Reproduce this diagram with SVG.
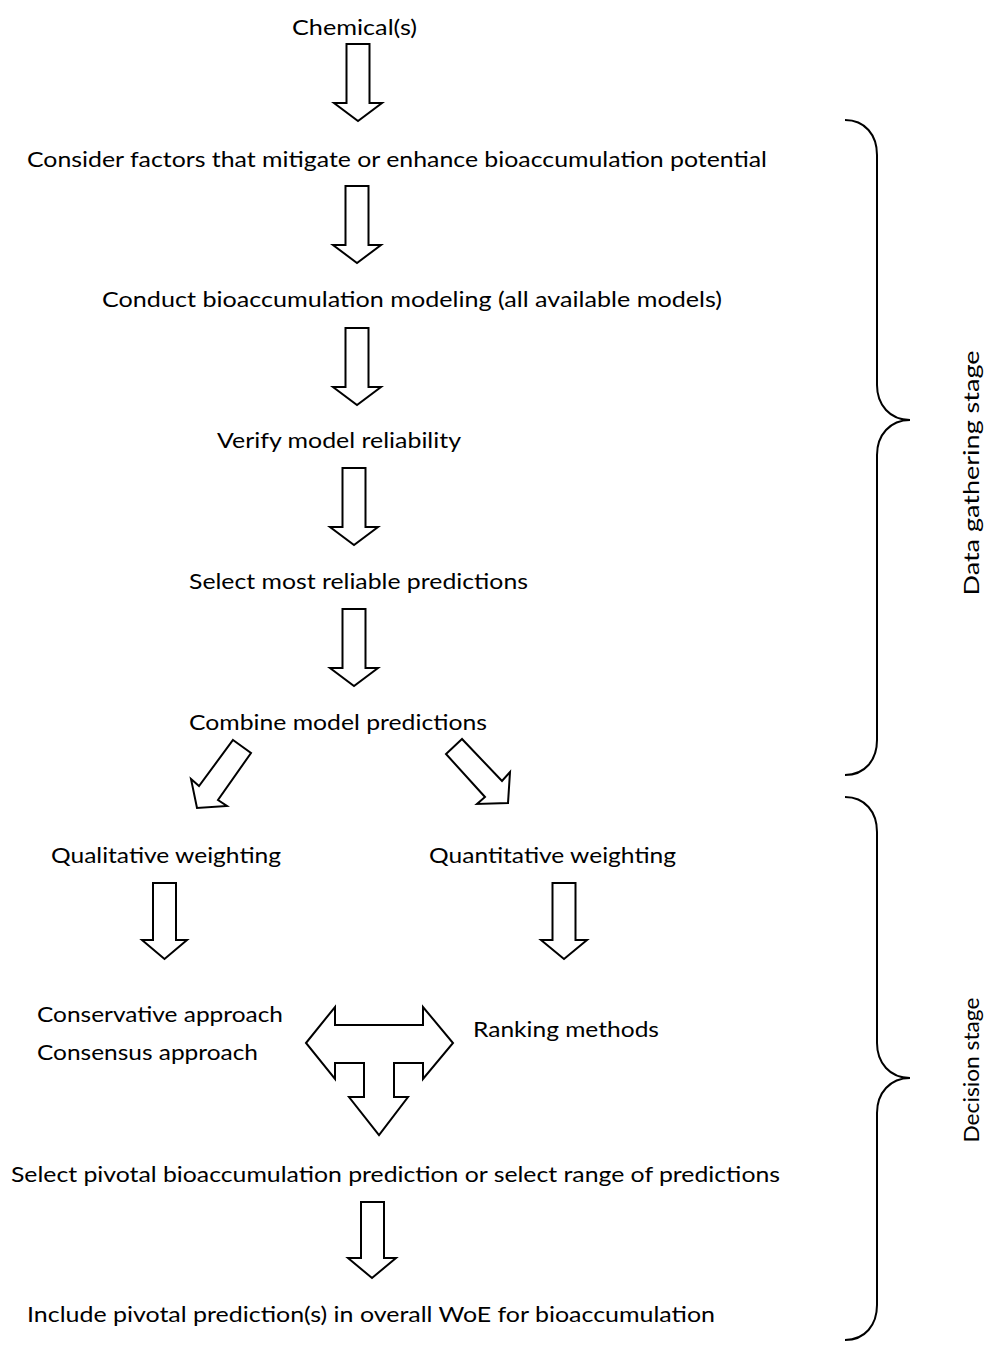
<svg xmlns="http://www.w3.org/2000/svg" width="989" height="1345" viewBox="0 0 989 1345">
<style>
.t{font-family:Lato,"Liberation Sans",sans-serif;font-size:22px;fill:#000}
.a{fill:#fff;stroke:#000;stroke-width:2;stroke-linejoin:miter}
.b{fill:none;stroke:#000;stroke-width:2}
</style>
<rect width="989" height="1345" fill="#fff"/>
<g id="n-chemicals"><text class="t" x="292" y="35" textLength="125" lengthAdjust="spacingAndGlyphs">Chemical(s)</text></g>
<g id="n-consider"><text class="t" x="27" y="167" textLength="740" lengthAdjust="spacingAndGlyphs">Consider factors that mitigate or enhance bioaccumulation potential</text></g>
<g id="n-conduct"><text class="t" x="102" y="307" textLength="620" lengthAdjust="spacingAndGlyphs">Conduct bioaccumulation modeling (all available models)</text></g>
<g id="n-verify"><text class="t" x="217" y="448" textLength="244" lengthAdjust="spacingAndGlyphs">Verify model reliability</text></g>
<g id="n-select-reliable"><text class="t" x="189" y="589" textLength="339" lengthAdjust="spacingAndGlyphs">Select most reliable predictions</text></g>
<g id="n-combine"><text class="t" x="189" y="730" textLength="298" lengthAdjust="spacingAndGlyphs">Combine model predictions</text></g>
<g id="n-qualitative"><text class="t" x="51" y="863" textLength="230" lengthAdjust="spacingAndGlyphs">Qualitative weighting</text></g>
<g id="n-quantitative"><text class="t" x="429" y="863" textLength="247" lengthAdjust="spacingAndGlyphs">Quantitative weighting</text></g>
<g id="n-conservative"><text class="t" x="37" y="1022" textLength="246" lengthAdjust="spacingAndGlyphs">Conservative approach</text></g>
<g id="n-consensus"><text class="t" x="37" y="1060" textLength="221" lengthAdjust="spacingAndGlyphs">Consensus approach</text></g>
<g id="n-ranking"><text class="t" x="473" y="1037" textLength="186" lengthAdjust="spacingAndGlyphs">Ranking methods</text></g>
<g id="n-select-pivotal"><text class="t" x="11" y="1182" textLength="769" lengthAdjust="spacingAndGlyphs">Select pivotal bioaccumulation prediction or select range of predictions</text></g>
<g id="n-include"><text class="t" x="27" y="1322" textLength="688" lengthAdjust="spacingAndGlyphs">Include pivotal prediction(s) in overall WoE for bioaccumulation</text></g>
<g id="connectors">
<path class="a" d="M346.5,44 H369.5 V103 H382 L358,121 L334,103 H346.5 Z"/>
<path class="a" d="M345.5,186 H368.5 V245 H381 L357,263 L333,245 H345.5 Z"/>
<path class="a" d="M345.5,328 H368.5 V387 H381 L357,405 L333,387 H345.5 Z"/>
<path class="a" d="M342.5,468 H365.5 V527 H378 L354,545 L330,527 H342.5 Z"/>
<path class="a" d="M342.5,609 H365.5 V668 H378 L354,686 L330,668 H342.5 Z"/>
<path class="a" d="M233,740 L251,753 L218,800 L227,806 L197,808 L191,779 L199,786 Z"/>
<path class="a" d="M462,739 L446,754 L485,797 L477,804 L508,803 L510,772 L502,781 Z"/>
<path class="a" d="M153,883 H176 V940 H187 L164.5,959 L142,940 H153 Z"/>
<path class="a" d="M552.5,883 H575.5 V940 H587 L564,959 L541,940 H552.5 Z"/>
<path class="a" d="M306,1043 L335,1007 V1025 H423 V1007 L453,1043 L423,1079 V1063 H394 V1097 H408 L379,1135 L349,1097 H364 V1063 H335 V1079 Z"/>
<path class="a" d="M361,1202 H384 V1258 H396 L372,1278 L348,1258 H361 Z"/>
</g>
<g id="brace-data-gathering">
<path class="b" d="M845,120 C865,120 877,135 877,155 L877,385 C877,405 890,420 910,420 C890,420 877,435 877,455 L877,740 C877,760 865,775 845,775"/>
<text class="t" x="979" y="473" text-anchor="middle" textLength="245" lengthAdjust="spacingAndGlyphs" transform="rotate(-90 979 473)">Data gathering stage</text>
</g>
<g id="brace-decision">
<path class="b" d="M845,797 C865,797 877,812 877,832 L877,1043 C877,1063 890,1078 910,1078 C890,1078 877,1093 877,1113 L877,1305 C877,1325 865,1340 845,1340"/>
<text class="t" x="979" y="1070" text-anchor="middle" textLength="145" lengthAdjust="spacingAndGlyphs" transform="rotate(-90 979 1070)">Decision stage</text>
</g>
</svg>
